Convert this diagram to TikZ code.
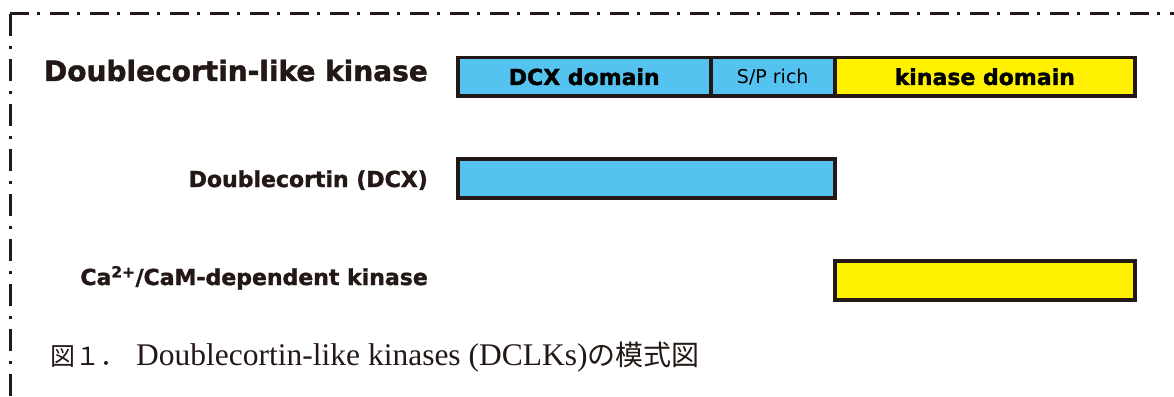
\documentclass[tikz,border=0pt]{standalone}
\usepackage{fontspec}
\setmainfont{Liberation Serif}
\newfontfamily\hv{DejaVu Sans}
\newfontfamily\hvh{DejaVu Sans Bold}[FakeBold=1.5]
\newfontfamily\jp{Noto Sans CJK JP}
\definecolor{dcxblue}{RGB}{84,195,240}
\definecolor{kyellow}{RGB}{255,241,0}
\definecolor{ink}{RGB}{35,24,21}
\tikzset{
  bar/.style={draw=ink, line width=3.5pt, anchor=north west, inner sep=0pt, text=black},
  lbl/.style={anchor=base east, inner sep=0pt, text=ink, font=\hvh\fontsize{22}{24}\selectfont},
  frame/.style={draw=ink, line width=3pt},
}
\begin{document}
\begin{tikzpicture}[x=1pt,y=-1pt]
\useasboundingbox (0,0) rectangle (1174,396);
% frame
\coordinate (fa) at (10,396);
\coordinate (fb) at (10,14);
\coordinate (fc) at (1180,14);
\draw[frame, dash pattern=on 22pt off 10pt on 3pt off 10pt] (fb) -- (fa);
\draw[frame, dash pattern=on 19pt off 8pt on 3pt off 10pt] (fb) -- (fc);
% top bar
\node[bar, fill=dcxblue, minimum width=253pt, minimum height=38pt, font=\hvh\fontsize{22}{24}\selectfont] (dcx) at (456,56) {DCX domain};
\node[bar, fill=dcxblue, minimum width=124pt, minimum height=38pt, font=\hv\fontsize{19}{20}\selectfont] (sp) at (709,56) {S/P rich};
\node[bar, fill=kyellow, minimum width=300pt, minimum height=38pt, font=\hvh\fontsize{22}{24}\selectfont] (kin) at (833,56) {kinase domain};
% second and third bars
\node[bar, fill=dcxblue, minimum width=377pt, minimum height=39pt] (dcxbar) at (456,157) {};
\node[bar, fill=kyellow, minimum width=300pt, minimum height=39pt] (kinbar) at (833,259) {};
% labels
\node[lbl, font=\hvh\fontsize{28}{30}\selectfont] (l1) at (428,81) {Doublecortin-like kinase};
\node[lbl] (l2) at (428,187) {Doublecortin (DCX)};
\node[lbl] (l3) at (428,285) {Ca\textsuperscript{2+}/CaM-dependent kinase};
% caption
\node[anchor=base west, inner sep=0pt, text=ink, font=\fontsize{31.5}{33}\selectfont] (cap) at (50,365)
  {{\jp\fontsize{25}{28}\selectfont 図１．}\hspace{11pt}Doublecortin-like kinases (DCLKs){\jp\fontsize{28}{30}\selectfont の模式図}};
\end{tikzpicture}
\end{document}
